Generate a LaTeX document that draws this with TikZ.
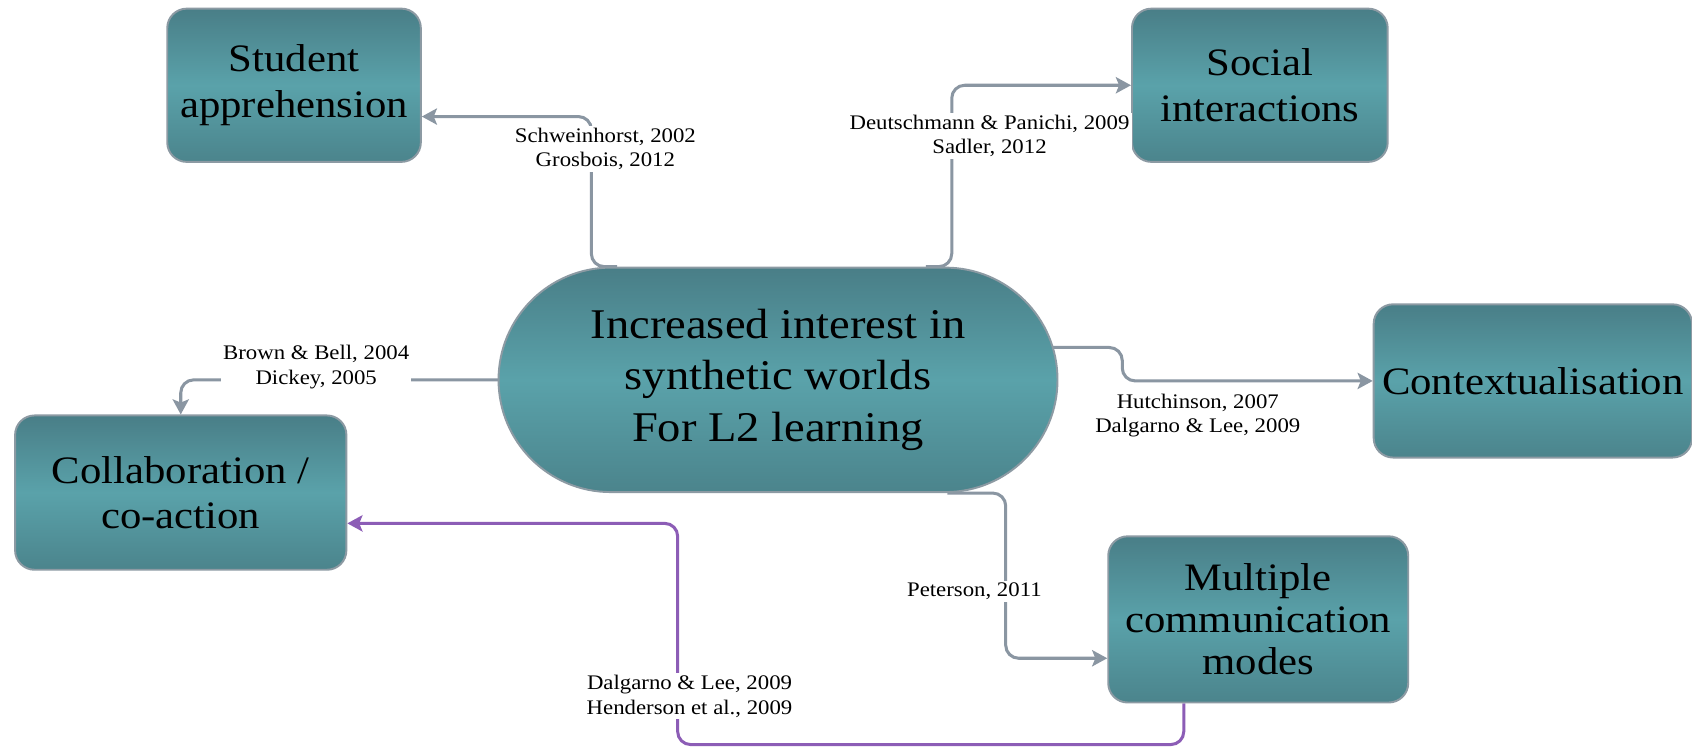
\documentclass[tikz,border=0pt]{standalone}
\usepackage{fontspec}
\setmainfont{Liberation Serif}[FakeStretch=1.1]
\usetikzlibrary{arrows.meta}
\definecolor{tealtop}{HTML}{497E87}
\definecolor{tealmid}{HTML}{5AA2AA}
\definecolor{tealbot}{HTML}{4B848C}
\definecolor{edgegray}{HTML}{8C9AA3}
\definecolor{conngray}{HTML}{8A96A2}
\definecolor{purp}{HTML}{8C5DB6}
\pgfdeclarelayer{bg}
\pgfdeclarelayer{edges}
\pgfsetlayers{bg,edges,main}
\tikzset{
  box/.style={draw=edgegray, line width=0.9pt, rounded corners=9pt,
    top color=tealtop, bottom color=tealbot, middle color=tealmid,
    align=center, inner sep=0pt, font=\fontsize{18}{21}\selectfont},
  hub/.style={box, rounded corners=52pt, font=\fontsize{19.6}{24}\selectfont},
  lbl/.style={fill=white, inner sep=1pt, align=center, font=\fontsize{9.6}{11.5}\selectfont},
  conn/.style={draw=conngray, line width=1.4pt, rounded corners=6pt,
    -{Stealth[length=7pt,width=7.5pt,inset=1.5pt]}},
  pconn/.style={conn, draw=purp}
}
\begin{document}
\begin{tikzpicture}[x=0.5pt,y=-0.5pt]
\begin{pgfonlayer}{bg}
\fill[white] (0,0) rectangle (1568,692.2);
\end{pgfonlayer}
\useasboundingbox (0,0) rectangle (1568,692.2);

\node[box, minimum width=117.5pt, minimum height=71pt] (sa) at (272.5,79) {Student\\apprehension};
\node[box, minimum width=118.5pt, minimum height=71pt] (si) at (1167.5,79) {Social\\interactions};
\node[hub, minimum width=259pt, minimum height=104pt] (c) at (721,352) {Increased interest in\\synthetic worlds\\For L2 learning};
\node[box, minimum width=147.5pt, minimum height=71pt] (ctx) at (1420.5,353) {Contextualisation};
\node[box, minimum width=153.5pt, minimum height=71.5pt] (col) at (167.5,456.5) {Collaboration /\\co-action};
\node[box, minimum width=139pt, minimum height=77pt, font=\fontsize{18}{19.5}\selectfont] (mcm) at (1166,574) {Multiple\\communication\\modes};

\begin{pgfonlayer}{edges}
\draw[conn] (c.north -| 572,0) -| (548,108) -- (sa.east |- 0,108);
\draw[conn] (c.north -| 858,0) -| (si.west -| 882,0) -- (si.west);
\draw[conn] (c.center |- 0,322) -- (1040,322) |- (ctx.west);
\draw[conn] (c.center) -| (col.north);
\draw[conn] (c.south -| 878,0) -| (932,610) -- (mcm.west |- 0,610);
\draw[pconn] (mcm.south -| 1097,0) |- (628,690) |- (col.east |- 0,485);
\end{pgfonlayer}

\node[lbl] (l1) at (561,138) {Schweinhorst, 2002\\Grosbois, 2012};
\node[lbl] (l2) at (917,126) {Deutschmann \& Panichi, 2009\\Sadler, 2012};
\node[lbl] (l3) at (293,340) {Brown \& Bell, 2004\\Dickey, 2005};
\node[lbl] (l4) at (1110,385) {Hutchinson, 2007\\Dalgarno \& Lee, 2009};
\node[lbl] (l5) at (903,548) {Peterson, 2011};
\node[lbl] (l6) at (639,645) {Dalgarno \& Lee, 2009\\Henderson et al., 2009};
\end{tikzpicture}
\end{document}
